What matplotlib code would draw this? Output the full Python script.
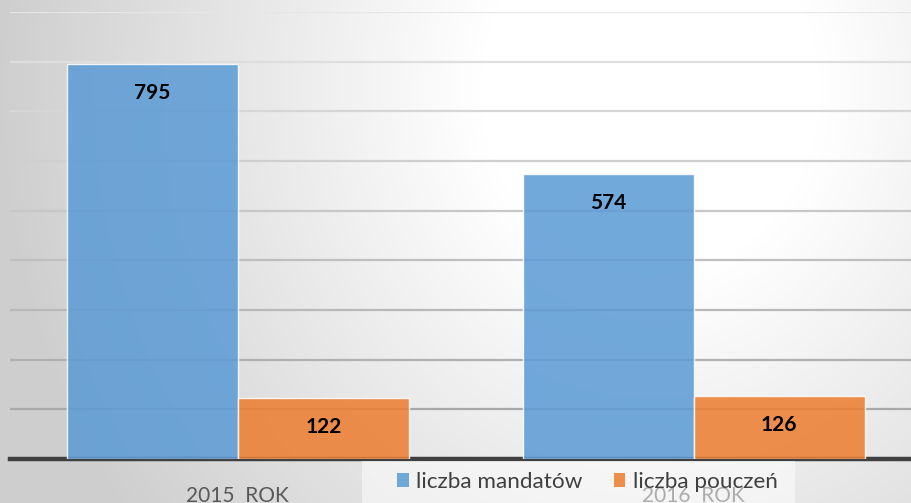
import numpy as np
import matplotlib
matplotlib.use("Agg")
import matplotlib.pyplot as plt
from matplotlib.patches import Patch, Rectangle

categories = ["2015  ROK", "2016  ROK"]
series_names = ["liczba mandatów", "liczba pouczeń"]
mandaty = [795, 574]
pouczenia = [122, 126]
y_ticks = [0, 100, 200, 300, 400, 500, 600, 700, 800, 900]

W, H, DPI = 911, 503, 100
fig = plt.figure(figsize=(W / DPI, H / DPI), dpi=DPI)
plt.rcParams['font.family'] = ['Lato', 'DejaVu Sans']

# background radial gradient
bg = fig.add_axes([0, 0, 1, 1], zorder=-10)
yy, xx = np.mgrid[0:H, 0:W]
d = np.sqrt(((xx - 650) / 1.0) ** 2 + ((yy - 90) / 1.1) ** 2)
t = np.clip((d - 170) / 480, 0, 1)
v = 1.0 - 0.19 * t
img = np.dstack([v, v, v])
bg.imshow(img, aspect='auto', extent=[0, 1, 0, 1], origin='upper')
bg.set_axis_off()

left = 10 / W
bottom = (H - 459) / H
top = (H - 12) / H
right_px = 921.5
ax = fig.add_axes([left, bottom, (right_px - 10) / W, top - bottom])
ax.set_facecolor('none')

x = np.arange(len(categories))
bw = 0.375
c_blue = '#5B9BD5'
c_orange = '#ED7D31'
b1 = ax.bar(x - bw / 2, mandaty, bw, color=c_blue, alpha=0.86,
            edgecolor=(1, 1, 1, 0.6), linewidth=1.0, zorder=3)
b2 = ax.bar(x + bw / 2, pouczenia, bw, color=c_orange, alpha=0.86,
            edgecolor=(1, 1, 1, 0.6), linewidth=1.0, zorder=3)

for bars in (b1, b2):
    for r in bars:
        h = r.get_height()
        ax.annotate(f"{int(h)}", (r.get_x() + r.get_width() / 2, h),
                    xytext=(0, -29), textcoords='offset pixels',
                    ha='center', va='center', fontsize=15, fontweight='bold',
                    color='black', zorder=5)

ax.set_xlim(-0.5, 1.5)
ax.set_ylim(0, 900)
ax.set_yticks(y_ticks)
ax.yaxis.grid(True, linewidth=1.6, zorder=0)
ax.set_axisbelow(True)
fig.canvas.draw()
glines = ax.get_ygridlines()
for val, gl in zip(y_ticks, glines):
    f = val / 900.0
    c = 0.63 + (0.90 - 0.63) * f
    gl.set_color((c, c, c))
    if val == 0:
        gl.set_visible(False)

ax.tick_params(axis='y', left=False, labelleft=False)
ax.tick_params(axis='x', bottom=False, labelsize=15, labelcolor='#595959', pad=16)
ax.set_xticks(x)
ax.set_xticklabels(categories)
for s in ['top', 'right', 'left']:
    ax.spines[s].set_visible(False)
ax.spines['bottom'].set_color('#404040')
ax.spines['bottom'].set_linewidth(3.2)

# light legend box overlapping the axis line and the second category label
box = Rectangle((362 / W, 0), (795 - 362) / W, (H - 460.5) / H,
                transform=fig.transFigure, facecolor='white', alpha=0.5,
                edgecolor='none', zorder=5)
fig.patches.append(box)

handles = [Patch(facecolor=c_blue, alpha=0.86), Patch(facecolor=c_orange, alpha=0.86)]
leg = fig.legend(handles, series_names, loc='center left',
                 bbox_to_anchor=(397 / W, 1 - 482 / H),
                 ncol=2, fontsize=16.2, frameon=False,
                 handlelength=0.53, handleheight=0.53, handletextpad=0.32,
                 columnspacing=1.38, borderpad=0, borderaxespad=0,
                 labelcolor='#404040')
leg.set_zorder(6)

fig.savefig("out.png", dpi=DPI)
